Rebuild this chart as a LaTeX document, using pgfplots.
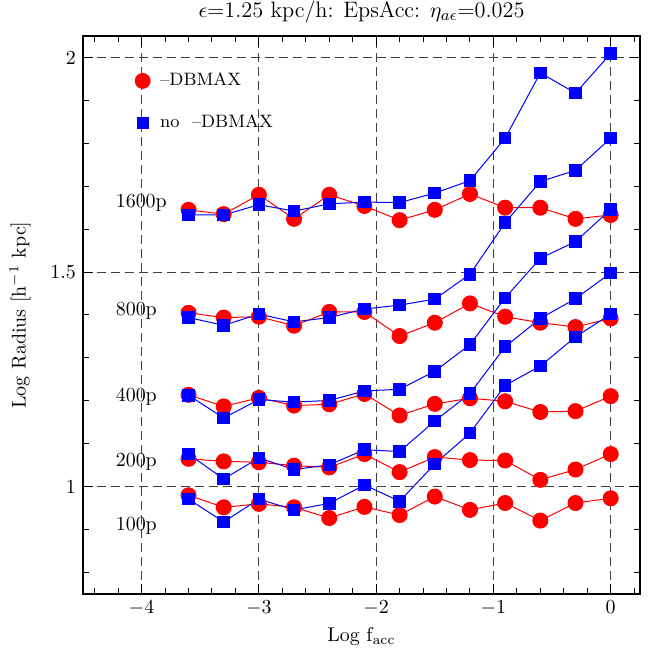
\documentclass[border=0pt]{standalone}
\usepackage{pgfplots}
\usepackage{pgfplotstable}
\pgfplotsset{compat=1.18}
\pgfplotstableread{
x     r1600 b1600 r800  b800  r400  b400  r200  b200  r100  b100
-3.6  1.645 1.633 1.405 1.394 1.214 1.213 1.065 1.076 0.980 0.971
-3.3  1.635 1.633 1.394 1.376 1.187 1.160 1.059 1.018 0.952 0.918
-3.0  1.680 1.657 1.396 1.402 1.207 1.203 1.057 1.067 0.960 0.971
-2.7  1.624 1.642 1.375 1.384 1.189 1.197 1.049 1.040 0.952 0.946
-2.4  1.680 1.659 1.407 1.394 1.192 1.201 1.045 1.051 0.927 0.961
-2.1  1.654 1.663 1.407 1.414 1.216 1.223 1.076 1.086 0.953 1.004
-1.8  1.621 1.662 1.351 1.423 1.166 1.227 1.034 1.082 0.934 0.966
-1.5  1.645 1.684 1.382 1.437 1.193 1.269 1.069 1.153 0.977 1.053
-1.2  1.682 1.713 1.427 1.495 1.206 1.331 1.062 1.217 0.946 1.125
-0.9  1.650 1.812 1.396 1.615 1.199 1.440 1.061 1.326 0.962 1.236
-0.6  1.650 1.964 1.382 1.711 1.174 1.532 1.016 1.392 0.921 1.281
-0.3  1.624 1.917 1.372 1.737 1.176 1.571 1.040 1.438 0.962 1.349
0.0   1.633 2.009 1.392 1.812 1.211 1.646 1.076 1.498 0.973 1.402
}\data
\begin{document}
\begin{tikzpicture}
\begin{axis}[
  scale only axis,
  width=278.5bp, height=279bp,
  xmin=-4.5, xmax=0.25, ymin=0.75, ymax=2.05,
  xtick={-4,-3,-2,-1,0},
  minor xtick={-4.4,-4.2,...,0.21},
  ytick={1,1.5,2},
  yticklabels={1,1.5,2},
  minor ytick={0.8,0.9,...,2.01},
  tick align=inside,
  major tick length=5bp, minor tick length=3bp,
  every tick/.style={black, line width=0.5bp},
  axis line style={line width=0.75bp},
  grid=major,
  major grid style={dash pattern=on 4.5bp off 2.5bp, black!75, line width=0.5bp},
  xlabel={Log f$_{\rm acc}$},
  ylabel={Log Radius [h$^{-1}$ kpc]},
  xlabel style={at={(axis description cs:0.5,-0.0771)}, anchor=center, inner sep=0pt},
  ylabel style={at={(axis description cs:-0.1131,0.5)}, anchor=center, inner sep=0pt},
  every axis title shift=0pt,
  title={$\epsilon$=1.25 kpc/h: EpsAcc: $\eta_{a\epsilon}$=0.025},
  title style={at={(axis description cs:0.5,1.043)}, anchor=center, inner sep=0pt, font=\fontsize{11.2}{13}\selectfont},
  red style/.style={red, line width=0.5bp, mark=*, mark size=3.75bp, mark options={solid, fill=red, draw=red}},
  blue style/.style={blue, line width=0.5bp, mark=square*, mark size=2.9bp, mark options={solid, fill=blue, draw=blue}},
  legend style={at={(axis cs:-4.058,1.974)}, anchor=north west, draw=none, fill=none, row sep=9bp, column sep=3bp, font=\small, inner sep=0pt},
  legend cell align=left,
  legend image code/.code={\draw[#1] plot[only marks] coordinates {(0bp,0bp)};},
]
\addlegendimage{red, mark=*, mark size=3.75bp}
\addlegendentry{--DBMAX}
\addlegendimage{blue, mark=square*, mark size=2.9bp}
\addlegendentry{no\ \ --DBMAX}
\addplot[red style, forget plot] table[x=x, y=r1600] {\data};
\addplot[red style, forget plot] table[x=x, y=r800] {\data};
\addplot[red style, forget plot] table[x=x, y=r400] {\data};
\addplot[red style, forget plot] table[x=x, y=r200] {\data};
\addplot[red style, forget plot] table[x=x, y=r100] {\data};
\addplot[blue style, forget plot] table[x=x, y=b1600] {\data};
\addplot[blue style, forget plot] table[x=x, y=b800] {\data};
\addplot[blue style, forget plot] table[x=x, y=b400] {\data};
\addplot[blue style, forget plot] table[x=x, y=b200] {\data};
\addplot[blue style, forget plot] table[x=x, y=b100] {\data};
\node[anchor=west] at (axis cs:-4.28,1.661) {1600p};
\node[anchor=west] at (axis cs:-4.28,1.409) {800p};
\node[anchor=west] at (axis cs:-4.28,1.209) {400p};
\node[anchor=west] at (axis cs:-4.28,1.058) {200p};
\node[anchor=west] at (axis cs:-4.28,0.909) {100p};
\end{axis}
\path ([xshift=-41.5bp,yshift=-31bp]current axis.south west) rectangle ([xshift=4.5bp,yshift=18bp]current axis.north east);
\end{tikzpicture}
\end{document}
